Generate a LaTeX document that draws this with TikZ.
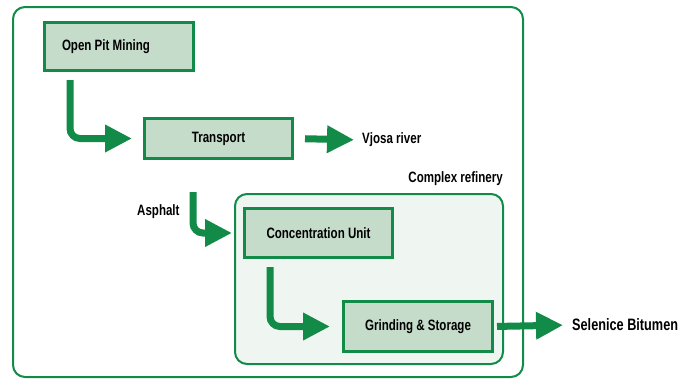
\documentclass[tikz,border=0pt]{standalone}
\usepackage{fontspec}
\setmainfont{Liberation Sans}[FakeStretch=0.77]
\usepackage{tikz}
\usetikzlibrary{arrows.meta}
\usepackage{xcolor}
\definecolor{flowgreen}{RGB}{18,138,72}
\definecolor{boxfill}{RGB}{198,220,202}
\definecolor{refinefill}{RGB}{239,245,240}

\begin{document}
\begin{tikzpicture}[x=1pt,y=-1pt,
    box/.style={draw=flowgreen,fill=boxfill,line width=3pt,minimum width=148pt,minimum height=49pt,
      font=\bfseries\fontsize{15}{17}\selectfont},
    lbl/.style={inner sep=0pt,font=\bfseries\fontsize{15}{17}\selectfont},
    flow/.style={draw=flowgreen,line width=7pt,rounded corners=10pt,-{Triangle[width=26pt,length=27pt]}}]
  \useasboundingbox (0,0) rectangle (680,380);
  % frames
  \draw[flowgreen,line width=2pt,rounded corners=12pt] (13,7) rectangle (523,377);
  \draw[flowgreen,fill=refinefill,line width=2pt,rounded corners=12pt] (235,194) rectangle (503,364);
  % stages
  \node[box,minimum height=48pt,text width=114pt,inner xsep=17.5pt,align=flush left] (opm) at (119,46.5) {Open Pit Mining};
  \node[box,minimum height=40pt] (trans) at (218.5,138.5) {Transport};
  \node[box] (conc) at (318.5,233) {Concentration Unit};
  \node[box,minimum height=50pt,minimum width=149pt] (grind) at (418,326.5) {Grinding \& Storage};
  % labels
  \node[lbl,anchor=west] (vjosa) at (362,140) {Vjosa river};
  \node[lbl,anchor=east] (refinery) at (503,179) {Complex refinery};
  \node[lbl,anchor=west] (asphalt) at (137,212) {Asphalt};
  \node[lbl,anchor=west,font=\bfseries\fontsize{16.5}{19}\selectfont] (bitumen) at (572,325) {Selenice Bitumen};
  % flows
  \draw[flow,shorten <=8pt,shorten >=11pt] ([xshift=27pt]opm.south west) |- (trans.west);
  \draw[flow,shorten <=11pt,shorten >=8pt] (trans.east) -- (vjosa.west);
  \draw[flow,shorten <=32pt,shorten >=11pt] ([xshift=50pt]trans.south west) |- (conc.west);
  \draw[flow,shorten <=8pt,shorten >=12pt] ([xshift=27pt]conc.south west) |- (grind.west);
  \draw[flow,shorten <=3pt,shorten >=9pt] (grind.east) -- (bitumen.west);
\end{tikzpicture}
\end{document}
